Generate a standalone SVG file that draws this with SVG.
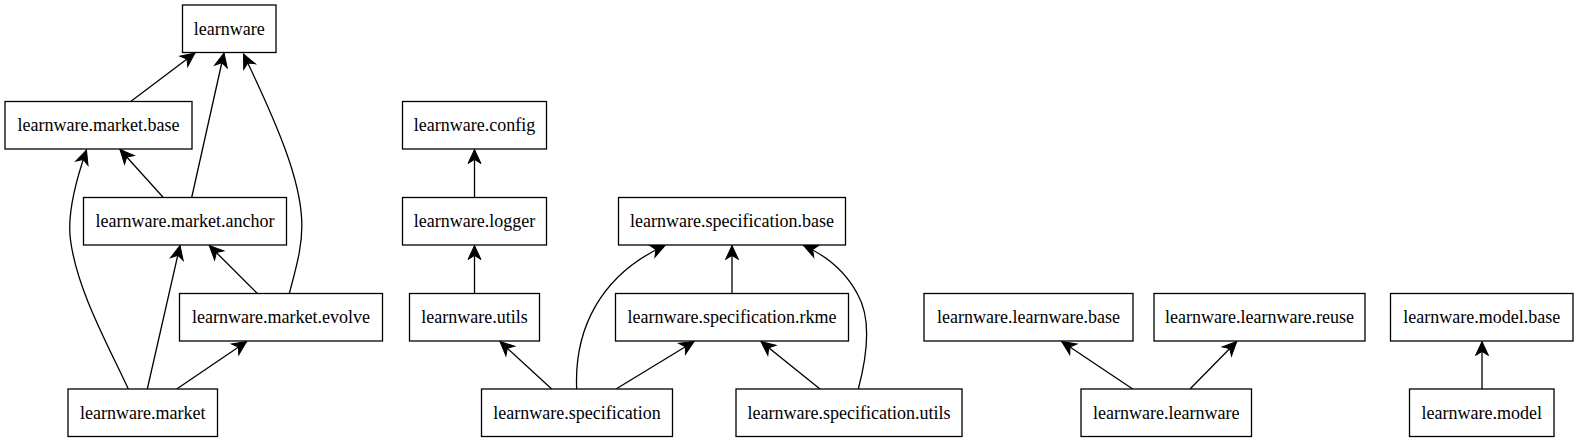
<svg xmlns="http://www.w3.org/2000/svg" width="1579" height="443" viewBox="0 0 1579 443">
<style>
.n rect{fill:#fff;stroke:#000;stroke-width:1.3}
.n text{font-family:"Liberation Serif","Times New Roman",serif;font-size:18px;fill:#000;text-anchor:middle}
.e path{fill:none;stroke:#000;stroke-width:1.3;marker-end:url(#v)}
</style>
<defs>
<marker id="v" markerUnits="userSpaceOnUse" markerWidth="16" markerHeight="16" refX="15" refY="8" orient="auto" overflow="visible">
<path d="M15,8 L1,1.5 L5,8 L1,14.5 Z" fill="#000" stroke="#000" stroke-width="1"/>
</marker>
</defs>
<rect width="1579" height="443" fill="#fff"/>
<g id="edges" class="e">
<path d="M130.7,101.5 L195,53"/>
<path d="M191.7,197.5 L224,53"/>
<path d="M289.3,293.5 C296,268 303,245 301.7,220 C300,180 280,130 243.5,54"/>
<path d="M163.3,197.5 L120,149.5"/>
<path d="M128.3,389 C108,345 77,290 70.5,240 C67,215 76,180 86.5,150"/>
<path d="M147.3,389 L180,245.5"/>
<path d="M176.7,389 L246.7,341.5"/>
<path d="M257.3,293.5 L209.3,245.5"/>
<path d="M474.5,197.5 L474.5,149.5"/>
<path d="M474.5,293.5 L474.5,245.5"/>
<path d="M551.7,389 L500,341.5"/>
<path d="M576.7,389 C574,330 600,275 665,245.5"/>
<path d="M616,389 L694,341.5"/>
<path d="M732,293.5 L732,245.5"/>
<path d="M820,389 L761,341.5"/>
<path d="M858.3,389 C866,360 872,320 858,295 C845,270 825,255 803.5,245.5"/>
<path d="M1132.7,389 L1061.7,341.5"/>
<path d="M1190,389 L1236.7,341.5"/>
<path d="M1482,389 L1482,341.5"/>
</g>
<g id="learnware" class="n"><rect x="182.5" y="5" width="93.5" height="47.5"/><text x="229.25" y="34.8">learnware</text></g>
<g id="learnware.market.base" class="n"><rect x="5" y="101.5" width="187" height="47.5"/><text x="98.5" y="131.3">learnware.market.base</text></g>
<g id="learnware.market.anchor" class="n"><rect x="83.5" y="197.5" width="203" height="47.5"/><text x="185" y="227.3">learnware.market.anchor</text></g>
<g id="learnware.market.evolve" class="n"><rect x="179.5" y="293.5" width="203" height="47.5"/><text x="281" y="323.3">learnware.market.evolve</text></g>
<g id="learnware.market" class="n"><rect x="68" y="389" width="149.5" height="47.5"/><text x="142.75" y="418.8">learnware.market</text></g>
<g id="learnware.config" class="n"><rect x="402.5" y="101.5" width="144" height="47.5"/><text x="474.5" y="131.3">learnware.config</text></g>
<g id="learnware.logger" class="n"><rect x="402.5" y="197.5" width="144" height="47.5"/><text x="474.5" y="227.3">learnware.logger</text></g>
<g id="learnware.specification.base" class="n"><rect x="618.5" y="197.5" width="227" height="47.5"/><text x="732" y="227.3">learnware.specification.base</text></g>
<g id="learnware.utils" class="n"><rect x="409.5" y="293.5" width="130" height="47.5"/><text x="474.5" y="323.3">learnware.utils</text></g>
<g id="learnware.specification.rkme" class="n"><rect x="615.5" y="293.5" width="233" height="47.5"/><text x="732" y="323.3">learnware.specification.rkme</text></g>
<g id="learnware.specification" class="n"><rect x="481.5" y="389" width="191" height="47.5"/><text x="577" y="418.8">learnware.specification</text></g>
<g id="learnware.specification.utils" class="n"><rect x="736" y="389" width="226" height="47.5"/><text x="849" y="418.8">learnware.specification.utils</text></g>
<g id="learnware.learnware.base" class="n"><rect x="924" y="293.5" width="209" height="47.5"/><text x="1028.5" y="323.3">learnware.learnware.base</text></g>
<g id="learnware.learnware.reuse" class="n"><rect x="1154" y="293.5" width="211" height="47.5"/><text x="1259.5" y="323.3">learnware.learnware.reuse</text></g>
<g id="learnware.model.base" class="n"><rect x="1390.5" y="293.5" width="182.5" height="47.5"/><text x="1481.75" y="323.3">learnware.model.base</text></g>
<g id="learnware.learnware" class="n"><rect x="1081" y="389" width="170.5" height="47.5"/><text x="1166.25" y="418.8">learnware.learnware</text></g>
<g id="learnware.model" class="n"><rect x="1409.5" y="389" width="144.5" height="47.5"/><text x="1481.75" y="418.8">learnware.model</text></g>
</svg>
